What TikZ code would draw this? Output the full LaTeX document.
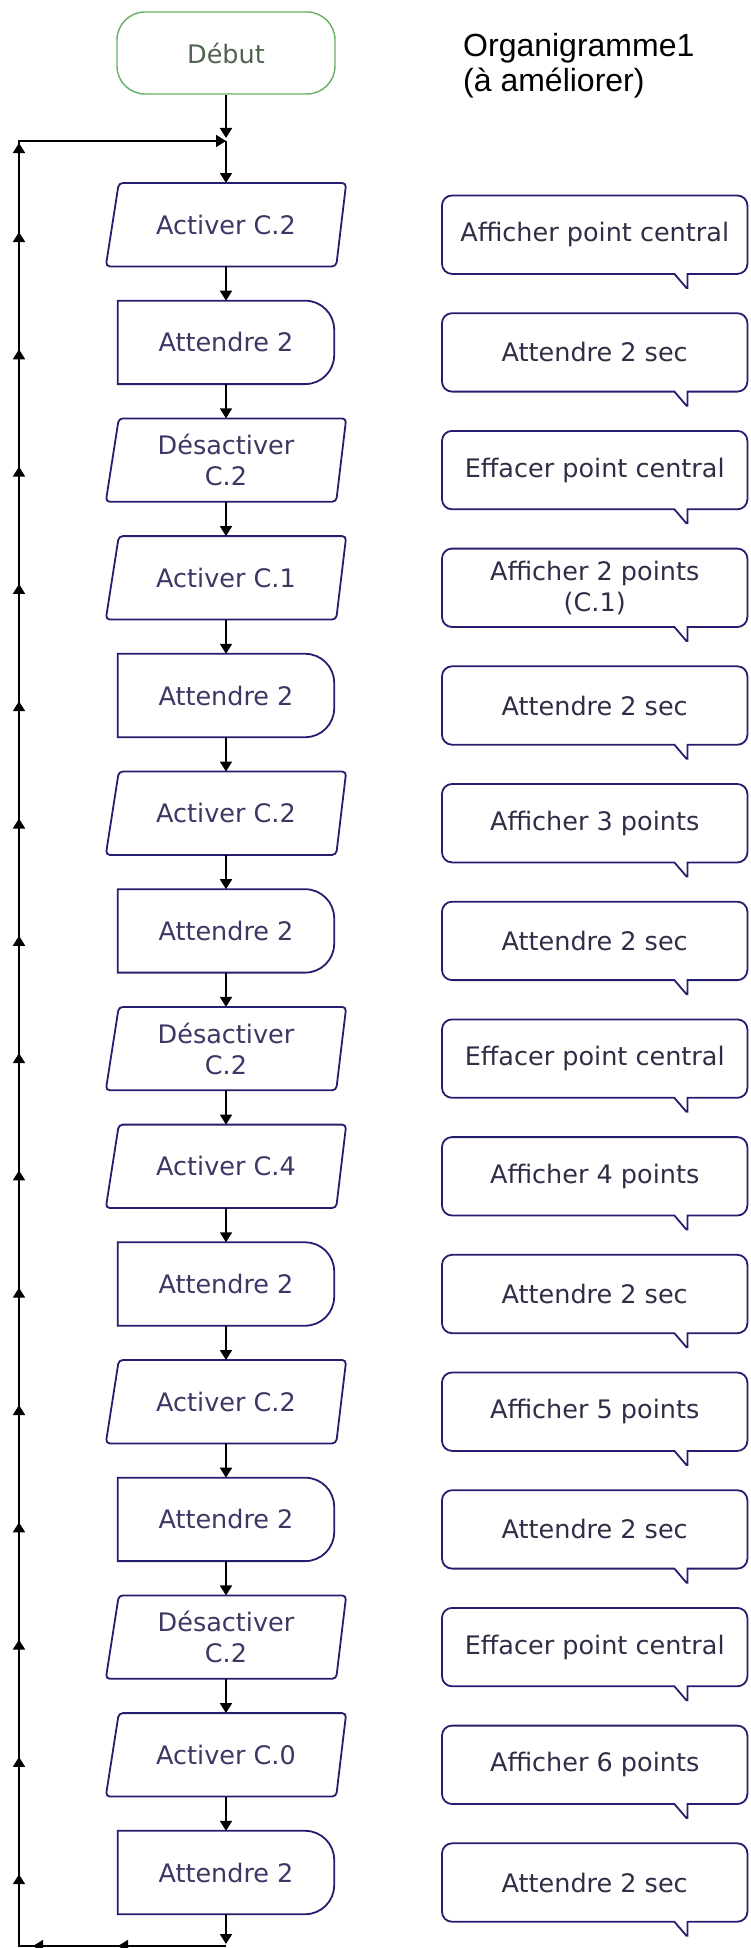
\documentclass[tikz,border=0pt]{standalone}
\usepackage{fontspec}
\newfontfamily\flowfont{DejaVu Sans}
\newfontfamily\titlefont{Liberation Sans}
\usetikzlibrary{positioning,arrows.meta,decorations.markings}
\definecolor{boxline}{RGB}{35,30,110}
\definecolor{boxtext}{RGB}{60,55,100}
\definecolor{startline}{RGB}{100,175,100}
\definecolor{starttext}{RGB}{80,100,80}
\definecolor{notetext}{RGB}{50,45,70}
\tikzset{every picture/.style={/utils/exec={\flowfont}}}

\begin{document}
\begin{tikzpicture}[x=1pt, y=1pt,
  node distance=34.3pt,
  flowtip/.tip={Triangle[width=12pt,length=10pt]},
  outline/.style={draw=boxline, line width=1.8pt},
  flow/.style={draw=black, line width=1.8pt, -flowtip},
  boxfont/.style={font=\fontsize{25.5}{31}\selectfont, text=boxtext, align=center, inner sep=0pt},
  startbox/.style={boxfont, text=starttext, draw=startline, line width=1.4pt,
    rounded corners=28pt, minimum width=218pt, minimum height=82pt},
  iobox/.style={boxfont, minimum width=240pt, minimum height=83pt,
    append after command={\pgfextra{\draw[outline, rounded corners=4pt]
      ([xshift=13pt]\tikzlastnode.north west) -- (\tikzlastnode.north east)
      -- ([xshift=-10pt]\tikzlastnode.south east) -- (\tikzlastnode.south west) -- cycle;}}},
  delaybox/.style={boxfont, minimum width=216pt, minimum height=83pt,
    append after command={\pgfextra{\draw[outline]
      (\tikzlastnode.south west) -- (\tikzlastnode.north west)
      -- ([xshift=-29pt]\tikzlastnode.north east) arc[start angle=90, end angle=0, radius=29pt]
      -- ([yshift=29pt]\tikzlastnode.south east) arc[start angle=0, end angle=-90, radius=29pt]
      -- cycle;}}},
  bubble/.style={boxfont, text=notetext, minimum width=305pt, minimum height=78pt,
    append after command={\pgfextra{\draw[outline]
      ([xshift=-60pt]\tikzlastnode.south east) -- ([xshift=-10pt]\tikzlastnode.south east)
      arc[start angle=-90, end angle=0, radius=10pt] -- ([yshift=-10pt]\tikzlastnode.north east)
      arc[start angle=0, end angle=90, radius=10pt] -- ([xshift=10pt]\tikzlastnode.north west)
      arc[start angle=90, end angle=180, radius=10pt] -- ([yshift=10pt]\tikzlastnode.south west)
      arc[start angle=180, end angle=270, radius=10pt] -- ([xshift=-73pt]\tikzlastnode.south east)
      -- ([xshift=-61pt, yshift=-14pt]\tikzlastnode.south east)
      -- ([xshift=-60pt, yshift=-14pt]\tikzlastnode.south east) -- cycle;}}},
  loopline/.style={flow, postaction={decorate}, decoration={markings,
      mark=at position 108pt with {\arrow{flowtip}},
      mark=at position 193pt with {\arrow{flowtip}},
      mark=between positions 278.8pt and 1925pt step 117.3pt with {\arrow{flowtip}},
      mark=at position 2010pt with {\arrow{flowtip}}}}
  ]
  \useasboundingbox (0,0) rectangle (751,-1948);

  \node [startbox] (debut) at (226,-53) {Début};
  \node [font=\titlefont\fontsize{32}{35}\selectfont, align=left, inner sep=0pt,
    anchor=north west] (titre) at (463,-33.5) {Organigramme1\\(à améliorer)};

  \coordinate (jn) at (226,-141);
  \coordinate (f0) at (226,-148.7);

  \foreach \kind/\txt/\note [count=\i, remember=\i as \j (initially 0)] in {
    iobox/Activer C.2/Afficher point central,
    delaybox/Attendre 2/Attendre 2 sec,
    iobox/Désactiver\\C.2/Effacer point central,
    iobox/Activer C.1/Afficher 2 points\\(C.1),
    delaybox/Attendre 2/Attendre 2 sec,
    iobox/Activer C.2/Afficher 3 points,
    delaybox/Attendre 2/Attendre 2 sec,
    iobox/Désactiver\\C.2/Effacer point central,
    iobox/Activer C.4/Afficher 4 points,
    delaybox/Attendre 2/Attendre 2 sec,
    iobox/Activer C.2/Afficher 5 points,
    delaybox/Attendre 2/Attendre 2 sec,
    iobox/Désactiver\\C.2/Effacer point central,
    iobox/Activer C.0/Afficher 6 points,
    delaybox/Attendre 2/Attendre 2 sec}{
    \node [\kind, below=of f\j] (f\i) {\txt};
    \node [bubble, right=216pt of f\i.center, yshift=-10pt] (c\i) {\note};
    \ifnum\i>1 \draw [flow] (f\j) -- (f\i); \fi
  }

  % loop back to the top
  \coordinate (bc) at (226,-1946);
  \coordinate (bl) at (19,-1946);
  \coordinate (tl) at (19,-141);
  \draw [flow, shorten >=3pt] (debut) -- (jn);
  \draw [flow] (jn) -- (f1);
  \draw [flow, shorten >=2pt] (f15) -- (bc);
  \draw [loopline] (bc) -- (bl) -- (tl) -- (jn);
\end{tikzpicture}
\end{document}
